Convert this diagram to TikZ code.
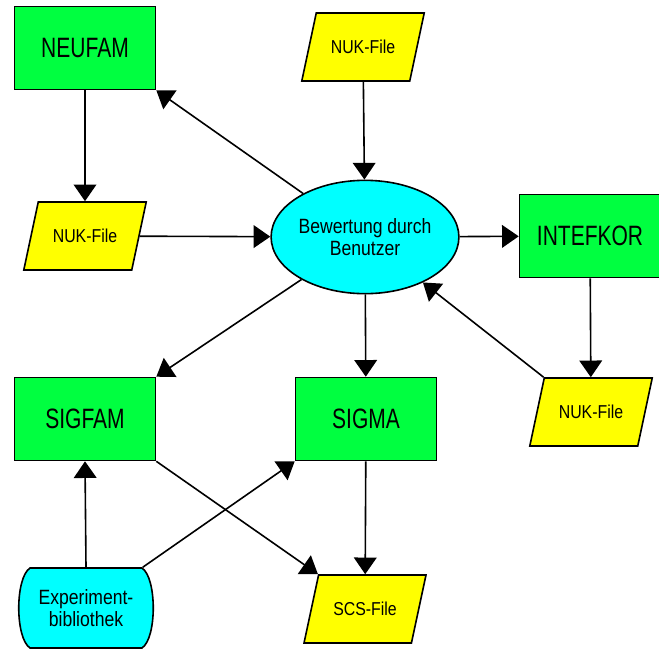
\documentclass[tikz,border=0pt]{standalone}
\usepackage{fontspec}
\setmainfont{Liberation Sans}
\newfontfamily\boxfont[FakeStretch=0.75]{Liberation Sans}
\newfontfamily\filefont[FakeStretch=0.85]{Liberation Sans}
\usetikzlibrary{arrows.meta,shapes.geometric}
\definecolor{progGreen}{RGB}{0,255,64}
\definecolor{fileYellow}{RGB}{255,255,0}
\definecolor{userCyan}{RGB}{0,255,255}
\begin{document}
\begin{tikzpicture}[x=0.75pt,y=-0.75pt,
  prog/.style={draw,line width=1.2pt,fill=progGreen,minimum width=105.75pt,minimum height=62.25pt,inner sep=0pt,font=\boxfont\fontsize{21}{25}\selectfont},
  file/.style={trapezium,trapezium left angle=54,trapezium right angle=126,trapezium stretches=true,draw,line width=1.2pt,fill=fileYellow,minimum width=92pt,minimum height=51pt,inner sep=0pt,font=\filefont\fontsize{14}{17}\selectfont},
  user/.style={draw,line width=1.2pt,fill=userCyan,align=center,inner sep=0pt,font=\filefont\fontsize{15.5}{17}\selectfont},
  flow/.style={line width=1.2pt,-{Triangle[length=12.5pt,width=17pt]}}]
\useasboundingbox (0,0) rectangle (659,650);
% programs
\node[prog] (neufam) at (85,48) {NEUFAM};
\node[prog] (intef) at (590,236) {INTEFKOR};
\node[prog] (sigfam) at (85,419) {SIGFAM};
\node[prog] (sigma) at (366,419) {SIGMA};
% files
\node[file] (nukt) at (363,47) {NUK-File};
\node[file] (nukl) at (85,236) {NUK-File};
\node[file] (nukr) at (591,412) {NUK-File};
\node[file] (scs) at (365,609) {SCS-File};
% user and library
\node[user,ellipse,minimum width=135pt,minimum height=85pt] (bew) at (365,237) {Bewertung durch\\Benutzer};
\draw[line width=1.2pt,fill=userCyan] (30,568) -- (142,568) .. controls (157,578) and (157,638) .. (142,648)
  -- (30,648) .. controls (15,638) and (15,578) .. (30,568) -- cycle;
\node[user,draw=none,fill=none,minimum width=84pt,minimum height=60pt] (exp) at (86,608) {Experiment-\\bibliothek};
% flows
\draw[flow] (neufam) -- (nukl);
\draw[flow] (nukl) -- (bew);
\draw[flow] (nukt) -- (bew);
\draw[flow] (bew) -- (neufam.south east);
\draw[flow] (bew) -- (intef);
\draw[flow] (intef) -- (nukr);
\draw[flow] (nukr.top left corner) -- (bew);
\draw[flow] (bew) -- (sigfam.north east);
\draw[flow] (bew) -- (sigma);
\draw[flow] (sigma) -- (scs);
\draw[flow] (sigfam.south east) -- (scs.top left corner);
\draw[flow] (exp.north) -- (sigfam.south);
\draw[flow] (exp.north east) -- (sigma.south west);
\end{tikzpicture}
\end{document}
